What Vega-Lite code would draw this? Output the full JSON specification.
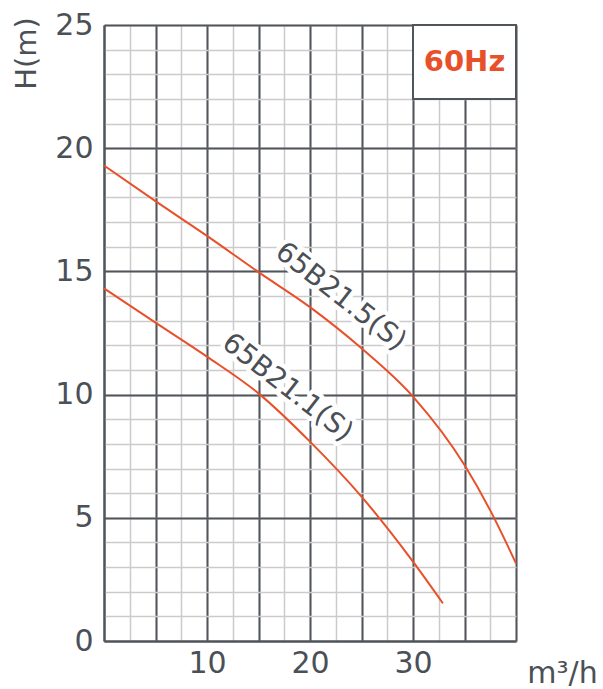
{
  "$schema": "https://vega.github.io/schema/vega-lite/v6.json",
  "width": 412,
  "height": 616,
  "autosize": {"type": "none"},
  "padding": {"left": 104, "top": 25, "right": 87, "bottom": 48},
  "background": "white",
  "config": {
    "view": {"stroke": null},
    "font": "DejaVu Sans",
    "axis": {"labelFont": "DejaVu Sans", "titleFont": "DejaVu Sans"}
  },
  "datasets": {
    "curves": [
      {"series": "65B21.5(S)", "q": 0, "h": 19.3},
      {"series": "65B21.5(S)", "q": 5, "h": 17.85},
      {"series": "65B21.5(S)", "q": 10, "h": 16.44},
      {"series": "65B21.5(S)", "q": 15, "h": 14.97},
      {"series": "65B21.5(S)", "q": 20, "h": 13.55},
      {"series": "65B21.5(S)", "q": 25, "h": 11.88},
      {"series": "65B21.5(S)", "q": 30, "h": 9.92},
      {"series": "65B21.5(S)", "q": 35, "h": 7.14},
      {"series": "65B21.5(S)", "q": 37.5, "h": 5.3},
      {"series": "65B21.5(S)", "q": 40, "h": 3.15},
      {"series": "65B21.1(S)", "q": 0, "h": 14.31},
      {"series": "65B21.1(S)", "q": 5, "h": 12.92},
      {"series": "65B21.1(S)", "q": 10, "h": 11.54},
      {"series": "65B21.1(S)", "q": 15, "h": 10.05},
      {"series": "65B21.1(S)", "q": 20, "h": 8.09},
      {"series": "65B21.1(S)", "q": 25, "h": 5.86},
      {"series": "65B21.1(S)", "q": 30, "h": 3.22},
      {"series": "65B21.1(S)", "q": 32.9, "h": 1.53}
    ],
    "labels": [
      {"label": "65B21.5(S)", "q": 22.96, "h": 13.96},
      {"label": "65B21.1(S)", "q": 17.79, "h": 10.27}
    ],
    "box": [
      {"label": "60Hz", "q1": 30, "q2": 40, "h1": 22, "h2": 25, "qt": 35, "ht": 23.5}
    ]
  },
  "layer": [
    {
      "data": {"name": "curves"},
      "mark": {"type": "line", "opacity": 0},
      "encoding": {
        "x": {
          "field": "q", "type": "quantitative",
          "scale": {"domain": [0, 40], "nice": false, "zero": false},
          "axis": {
            "orient": "bottom",
            "values": [0, 2.5, 5, 7.5, 10, 12.5, 15, 17.5, 20, 22.5, 25, 27.5, 30, 32.5, 35, 37.5, 40],
            "grid": true, "gridColor": "#cbcbcb", "gridWidth": 1.5,
            "labels": false, "ticks": false, "domain": false, "title": null
          }
        },
        "y": {
          "field": "h", "type": "quantitative",
          "scale": {"domain": [0, 25], "nice": false, "zero": false},
          "axis": {
            "orient": "left",
            "values": [0, 1, 2, 3, 4, 5, 6, 7, 8, 9, 10, 11, 12, 13, 14, 15, 16, 17, 18, 19, 20, 21, 22, 23, 24, 25],
            "grid": true, "gridColor": "#cbcbcb", "gridWidth": 1.5,
            "labels": false, "ticks": false, "domain": false, "title": null
          }
        },
        "detail": {"field": "series"}
      }
    },
    {
      "data": {"name": "box"},
      "mark": {"type": "rect", "fill": "white", "stroke": "#50555a", "strokeWidth": 2},
      "encoding": {
        "x": {
          "field": "q1", "type": "quantitative",
          "axis": {
            "orient": "bottom",
            "values": [0, 5, 10, 15, 20, 25, 30, 35, 40],
            "grid": true, "gridColor": "#50555a", "gridWidth": 2,
            "ticks": false, "domain": true, "domainColor": "#50555a", "domainWidth": 2,
            "labelExpr": "datum.value == 10 || datum.value == 20 || datum.value == 30 ? datum.label : ''",
            "labelFontSize": 30, "labelColor": "#4b5056", "labelPadding": 7,
            "title": "m³/h", "titleFontSize": 30, "titleFontWeight": "normal", "titleColor": "#4b5056",
            "titleX": 458, "titleY": 32, "titleAlign": "center", "titleBaseline": "middle"
          }
        },
        "x2": {"field": "q2"},
        "y": {
          "field": "h1", "type": "quantitative",
          "axis": {
            "orient": "left",
            "values": [0, 5, 10, 15, 20, 25],
            "grid": true, "gridColor": "#50555a", "gridWidth": 2,
            "ticks": false, "domain": true, "domainColor": "#50555a", "domainWidth": 2,
            "labelFontSize": 30, "labelColor": "#4b5056", "labelPadding": 11,
            "title": "H(m)", "titleFontSize": 29, "titleFontWeight": "normal", "titleColor": "#4b5056",
            "titleX": -78, "titleY": 28, "titleAngle": -90, "titleAlign": "center", "titleBaseline": "middle"
          }
        },
        "y2": {"field": "h2"}
      }
    },
    {
      "data": {"name": "curves"},
      "mark": {"type": "line", "color": "#e8502a", "strokeWidth": 2, "interpolate": "monotone"},
      "encoding": {
        "x": {"field": "q", "type": "quantitative", "axis": null},
        "y": {"field": "h", "type": "quantitative", "axis": null},
        "detail": {"field": "series"}
      }
    },
    {
      "data": {"name": "labels"},
      "mark": {"type": "text", "angle": 38, "fontSize": 28, "font": "DejaVu Sans", "stroke": "white", "strokeWidth": 9, "strokeJoin": "round", "fill": "white", "align": "center", "baseline": "middle"},
      "encoding": {
        "x": {"field": "q", "type": "quantitative", "axis": null},
        "y": {"field": "h", "type": "quantitative", "axis": null},
        "text": {"field": "label"}
      }
    },
    {
      "data": {"name": "labels"},
      "mark": {"type": "text", "angle": 38, "fontSize": 28, "font": "DejaVu Sans", "fill": "#4b5056", "align": "center", "baseline": "middle"},
      "encoding": {
        "x": {"field": "q", "type": "quantitative", "axis": null},
        "y": {"field": "h", "type": "quantitative", "axis": null},
        "text": {"field": "label"}
      }
    },
    {
      "data": {"name": "box"},
      "mark": {"type": "text", "fontSize": 29, "fontWeight": "bold", "font": "DejaVu Sans", "fill": "#e8502a", "align": "center", "baseline": "middle"},
      "encoding": {
        "x": {"field": "qt", "type": "quantitative", "axis": null},
        "y": {"field": "ht", "type": "quantitative", "axis": null},
        "text": {"field": "label"}
      }
    }
  ],
  "resolve": {"axis": {"x": "independent", "y": "independent"}}
}
